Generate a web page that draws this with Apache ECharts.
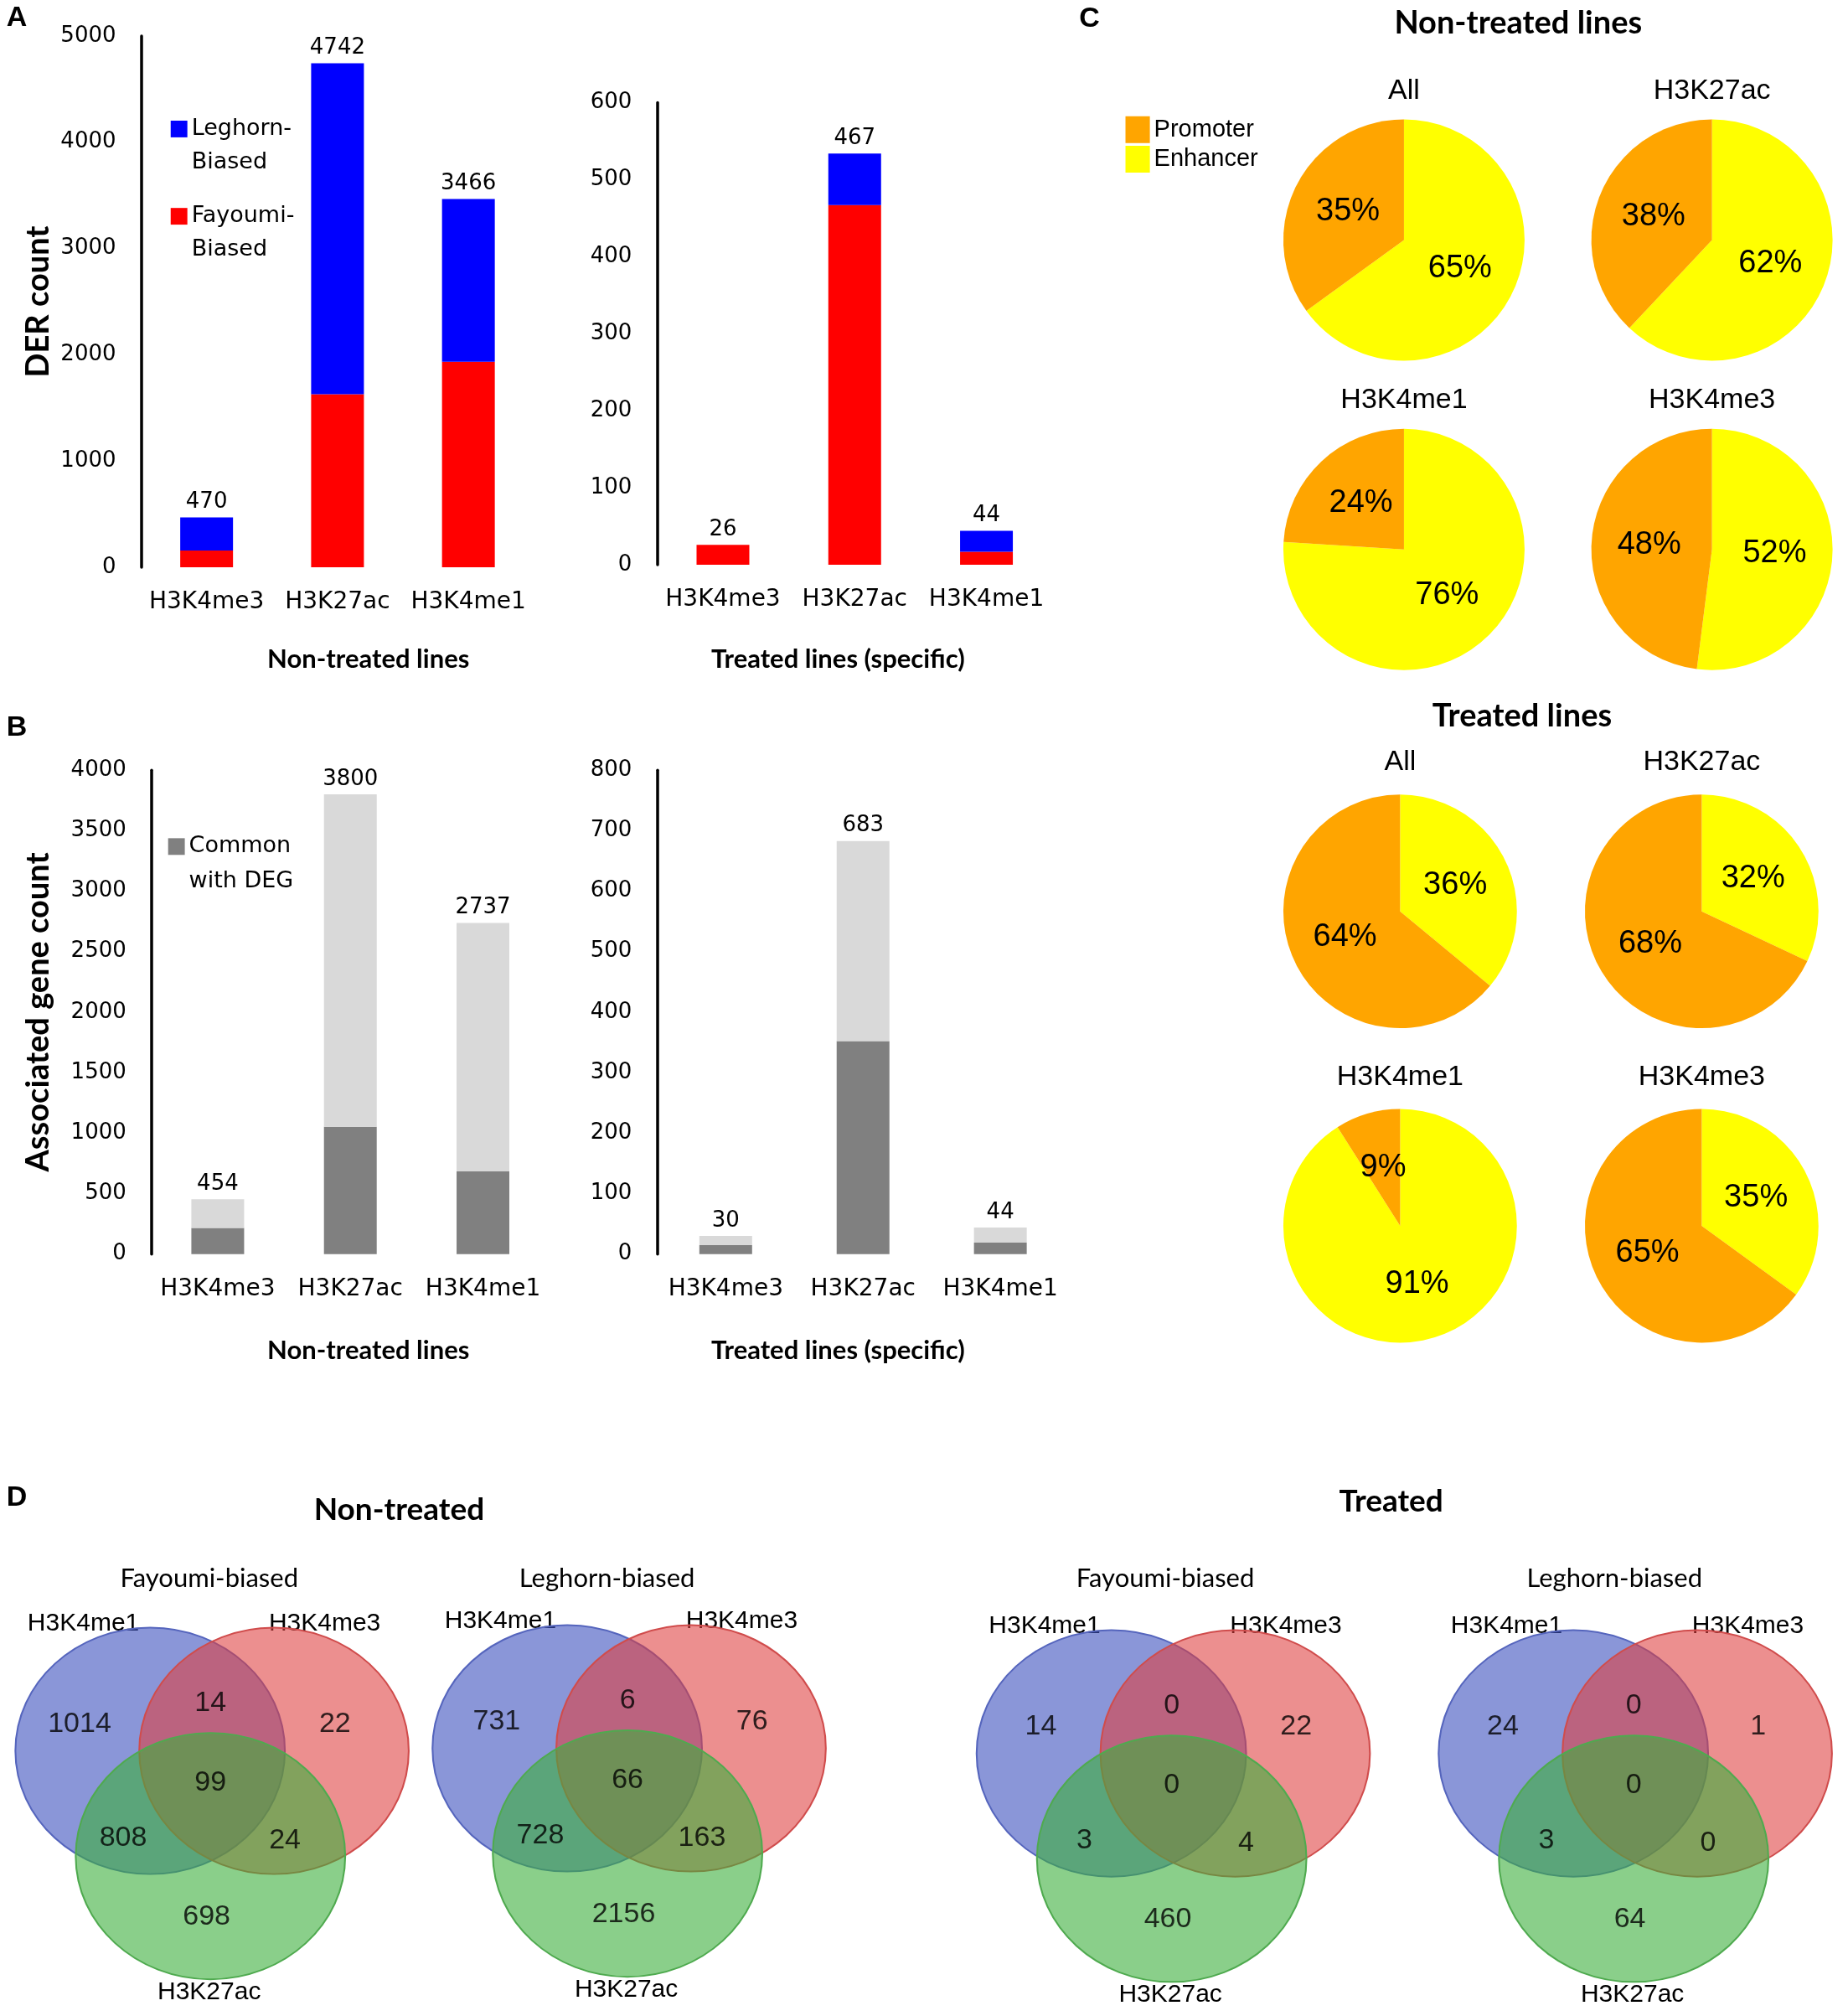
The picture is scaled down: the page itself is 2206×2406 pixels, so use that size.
<!DOCTYPE html>
<html><head><meta charset="utf-8">
<script src="https://cdn.jsdelivr.net/npm/echarts@6/dist/echarts.min.js"></script>
<style>html,body{margin:0;padding:0;background:#fff}#chart{width:2206px;height:2406px}</style>
</head><body><div id="chart"></div>
<script>
// ---------------- DATA ----------------
const marks = ['H3K4me3', 'H3K27ac', 'H3K4me1'];

// Panel A: DER counts
const derNonTreatedFayoumi = [159, 1629, 1935];
const derNonTreatedLeghorn = [311, 3113, 1531];
const derNonTreatedTotals = ['470', '4742', '3466'];
const derNonTreatedTicks = [0, 1000, 2000, 3000, 4000, 5000];
const derTreatedFayoumi = [26, 467, 17];
const derTreatedLeghorn = [0, 67, 27];
const derTreatedTotals = ['26', '467', '44'];
const derTreatedTicks = [0, 100, 200, 300, 400, 500, 600];

// Panel B: associated gene counts
const geneNonTreatedCommon = [217, 1053, 685];
const geneNonTreatedOther = [237, 2747, 2052];
const geneNonTreatedTotals = ['454', '3800', '2737'];
const geneNonTreatedTicks = [0, 500, 1000, 1500, 2000, 2500, 3000, 3500, 4000];
const geneTreatedCommon = [15, 352, 19];
const geneTreatedOther = [15, 331, 25];
const geneTreatedTotals = ['30', '683', '44'];
const geneTreatedTicks = [0, 100, 200, 300, 400, 500, 600, 700, 800];

// Panel C: promoter / enhancer percentages
const pieTitles = ['All', 'H3K27ac', 'H3K4me1', 'H3K4me3'];
const pieNonTreatedEnhancer = [65, 62, 76, 52];
const pieNonTreatedPromoter = [35, 38, 24, 48];
const pieTreatedEnhancer = [36, 32, 91, 35];
const pieTreatedPromoter = [64, 68, 9, 65];

// Panel D: Venn region counts
// order: me1 only, me1&me3, me3 only, all three, me1&27ac, me3&27ac, 27ac only
const vennSets = ['H3K4me1', 'H3K4me3', 'H3K27ac'];
const vennTitles = ['Fayoumi-biased', 'Leghorn-biased', 'Fayoumi-biased', 'Leghorn-biased'];
const vennNonTreatedFayoumi = [1014, 14, 22, 99, 808, 24, 698];
const vennNonTreatedLeghorn = [731, 6, 76, 66, 728, 163, 2156];
const vennTreatedFayoumi = [14, 0, 22, 0, 3, 4, 460];
const vennTreatedLeghorn = [24, 0, 1, 0, 3, 0, 64];

// ---------------- LAYOUT ----------------
const S = 2206 / 1440;
const P = v => v * S;
const FT = 'DejaVu Sans';
const FB = 'Lato';
const FA = 'Liberation Sans';

const barGrids = [
  { left: 110, top: 28, width: 306, height: 414 },
  { left: 512, top: 80, width: 308, height: 360 },
  { left: 118, top: 600, width: 310, height: 377 },
  { left: 512, top: 600, width: 321, height: 377 }
];

function valueAxis(gi, ticks, name, nameGap) {
  return {
    type: 'value', gridIndex: gi, min: ticks[0], max: ticks[ticks.length - 1], interval: ticks[1] - ticks[0],
    axisLine: { show: true, lineStyle: { color: '#000', width: 3.5 } },
    axisTick: { show: false }, splitLine: { show: false },
    axisLabel: { color: '#000', fontSize: 26, fontFamily: FT, margin: 30, formatter: v => String(v) },
    name: name, nameLocation: 'middle', nameGap: nameGap,
    nameTextStyle: { color: '#000', fontSize: 38, fontWeight: 'bold', fontFamily: FB }
  };
}
function catAxis(gi) {
  return {
    type: 'category', gridIndex: gi, data: marks,
    axisLine: { show: false }, axisTick: { show: false },
    axisLabel: { color: '#000', fontSize: 28, fontFamily: FT, margin: 28, interval: 0 }
  };
}
function totalLabel(totals) {
  return { show: true, position: 'top', distance: 5, color: '#000', fontSize: 26, fontFamily: FT,
           formatter: p => totals[p.dataIndex] };
}
function bar(gi, name, data, color, stack, totals) {
  const s = { type: 'bar', name: name, xAxisIndex: gi, yAxisIndex: gi, stack: stack, data: data,
              barWidth: 63, itemStyle: { color: color }, silent: true };
  if (totals) s.label = totalLabel(totals);
  return s;
}

const series = [
  bar(0, 'Fayoumi-Biased', derNonTreatedFayoumi, '#FF0000', 'a0'),
  bar(0, 'Leghorn-Biased', derNonTreatedLeghorn, '#0000FF', 'a0', derNonTreatedTotals),
  bar(1, 'Fayoumi-Biased', derTreatedFayoumi, '#FF0000', 'a1'),
  bar(1, 'Leghorn-Biased', derTreatedLeghorn, '#0000FF', 'a1', derTreatedTotals),
  bar(2, 'Common with DEG', geneNonTreatedCommon, '#808080', 'b0'),
  bar(2, 'Other', geneNonTreatedOther, '#D9D9D9', 'b0', geneNonTreatedTotals),
  bar(3, 'Common with DEG', geneTreatedCommon, '#808080', 'b1'),
  bar(3, 'Other', geneTreatedOther, '#D9D9D9', 'b1', geneTreatedTotals)
];

// pies
const pieCentersNT = [[1094, 187], [1334, 187], [1094, 428], [1334, 428]];
const pieCentersT = [[1091, 710], [1326, 710], [1091, 955], [1326, 955]];
const graphics = [];
function txt(x, y, text, size, family, weight, align) {
  graphics.push({ type: 'text', x: P(x), y: P(y + 2), silent: true,
    style: { text: text, fontSize: size, fontFamily: family, fontWeight: weight || 'normal', fill: '#000',
             align: align || 'center', verticalAlign: 'middle', textAlign: align || 'center', textVerticalAlign: 'middle' } });
}
function addPies(centers, r, enh, pro) {
  centers.forEach((c, i) => {
    series.push({
      type: 'pie', center: [P(c[0]), P(c[1])], radius: P(r), startAngle: 90, clockwise: true, silent: true,
      label: { show: true, position: 'inside', formatter: '{c}%', color: '#000', fontSize: 38, fontFamily: FA },
      labelLine: { show: false },
      itemStyle: { borderWidth: 0 },
      data: [
        { name: 'Enhancer', value: enh[i], itemStyle: { color: '#FFFF00' } },
        { name: 'Promoter', value: pro[i], itemStyle: { color: '#FFA500' } }
      ]
    });
    txt(c[0], c[1] - 118, pieTitles[i], 34, FA);
  });
}
addPies(pieCentersNT, 94, pieNonTreatedEnhancer, pieNonTreatedPromoter);
addPies(pieCentersT, 91, pieTreatedEnhancer, pieTreatedPromoter);

// venns (layout template in display units, relative to H3K4me1 circle centre)
const vennOrigins = [[117, 1364], [442, 1362], [866, 1366], [1226, 1366]];
const vennCircleOffsets = [[0, 0], [96.5, 0], [47, 82]];
const vennRegionOffsets = [[-55, -21], [47, -37], [144, -21], [47, 25], [-21, 68], [105, 70], [44, 129]];
const vennNameOffsets = [[-52, -101], [136, -101], [46, 186]];
const vennTitleOffsets = [[46, -136], [31, -134], [42, -138], [32, -138]];
const vennCounts = [vennNonTreatedFayoumi, vennNonTreatedLeghorn, vennTreatedFayoumi, vennTreatedLeghorn];
const vennFill = ['rgba(60,80,190,0.6)', 'rgba(222,62,62,0.58)', 'rgba(60,175,60,0.6)'];
const vennStroke = ['#5565bd', '#d04c4c', '#4faa4f'];
const ellipse = 'path://M50,0C77.6,0,100,22.4,100,50C100,77.6,77.6,100,50,100C22.4,100,0,77.6,0,50C0,22.4,22.4,0,50,0Z';

vennSets.forEach((set, k) => {
  series.push({
    type: 'scatter', name: set + ' set', xAxisIndex: 4, yAxisIndex: 4, silent: true,
    symbol: ellipse, symbolSize: [P(210), P(192)],
    itemStyle: { color: vennFill[k], borderColor: vennStroke[k], borderWidth: 2, opacity: 1 },
    data: vennOrigins.map(o => [P(o[0] + vennCircleOffsets[k][0]), P(o[1] + vennCircleOffsets[k][1])])
  });
});
const vennLabelData = [];
vennOrigins.forEach((o, v) => {
  vennCounts[v].forEach((cnt, r) => {
    vennLabelData.push([P(o[0] + vennRegionOffsets[r][0]), P(o[1] + vennRegionOffsets[r][1]), cnt]);
  });
  vennSets.forEach((set, k) => txt(o[0] + vennNameOffsets[k][0], o[1] + vennNameOffsets[k][1], set, 30, FA));
  txt(o[0] + vennTitleOffsets[v][0], o[1] + vennTitleOffsets[v][1], vennTitles[v], 31, FB);
});
series.push({
  type: 'scatter', name: 'venn counts', xAxisIndex: 4, yAxisIndex: 4, silent: true, z: 5,
  symbolSize: 1, itemStyle: { color: 'rgba(0,0,0,0)' },
  label: { show: true, position: 'inside', formatter: p => String(p.value[2]), color: '#000', fontSize: 34, fontFamily: FA },
  data: vennLabelData
});

// free text
txt(5, 12, 'A', 34, FA, 'bold', 'left');
txt(5, 565, 'B', 34, FA, 'bold', 'left');
txt(841, 13, 'C', 34, FA, 'bold', 'left');
txt(5, 1165, 'D', 34, FA, 'bold', 'left');
txt(287, 512, 'Non-treated lines', 31, FB, 'bold');
txt(653, 512, 'Treated lines (specific)', 31, FB, 'bold');
txt(287, 1050, 'Non-treated lines', 31, FB, 'bold');
txt(653, 1050, 'Treated lines (specific)', 31, FB, 'bold');
txt(1183, 16, 'Non-treated lines', 38, FB, 'bold');
txt(1186, 556, 'Treated lines', 38, FB, 'bold');
txt(311, 1174, 'Non-treated', 37, FB, 'bold');
txt(1084, 1168, 'Treated', 37, FB, 'bold');

// legend text: a leading empty line puts the first text line level with the square
const lhA = P(26), lhB = P(27);
function barLegend(name, cy, lh, fmt) {
  return { data: [name], left: P(133), top: P(cy) - 1.5 * lh, orient: 'vertical', padding: 0, selectedMode: false,
    icon: 'rect', itemWidth: P(13), itemHeight: P(13), formatter: fmt,
    textStyle: { color: '#000', fontSize: 27, fontFamily: FT, lineHeight: lh } };
}
const option = {
  animation: false,
  backgroundColor: '#ffffff',
  grid: barGrids.map(g => ({ left: P(g.left), top: P(g.top), width: P(g.width), height: P(g.height), containLabel: false, outerBoundsMode: 'none' }))
        .concat([{ left: 0, top: 0, width: 2206, height: 2406, containLabel: false, outerBoundsMode: 'none' }]),
  xAxis: [catAxis(0), catAxis(1), catAxis(2), catAxis(3),
          { type: 'value', gridIndex: 4, min: 0, max: 2206, show: false }],
  yAxis: [valueAxis(0, derNonTreatedTicks, 'DER count', 104),
          valueAxis(1, derTreatedTicks, '', 0),
          valueAxis(2, geneNonTreatedTicks, 'Associated gene count', 116),
          valueAxis(3, geneTreatedTicks, '', 0),
          { type: 'value', gridIndex: 4, min: 0, max: 2406, inverse: true, show: false }],
  legend: [
    barLegend('Leghorn-Biased', 100.5, lhA, n => '\n' + n.replace('-', '-\n')),
    barLegend('Fayoumi-Biased', 168.5, lhA, n => '\n' + n.replace('-', '-\n')),
    Object.assign(barLegend('Common with DEG', 659.5, lhB, n => '\n' + n.replace(' with', '\nwith')), { left: P(131) }),
    { data: ['Promoter', 'Enhancer'], left: P(877), top: P(90.5), orient: 'vertical', padding: 0, selectedMode: false,
      icon: 'rect', itemWidth: P(19), itemHeight: P(21), itemGap: P(2),
      textStyle: { color: '#000', fontSize: 29, fontFamily: FA } }
  ],
  series: series,
  graphic: { elements: graphics }
};
const chart = echarts.init(document.getElementById('chart'), null, { renderer: 'canvas' });
chart.setOption(option);
</script></body></html>
